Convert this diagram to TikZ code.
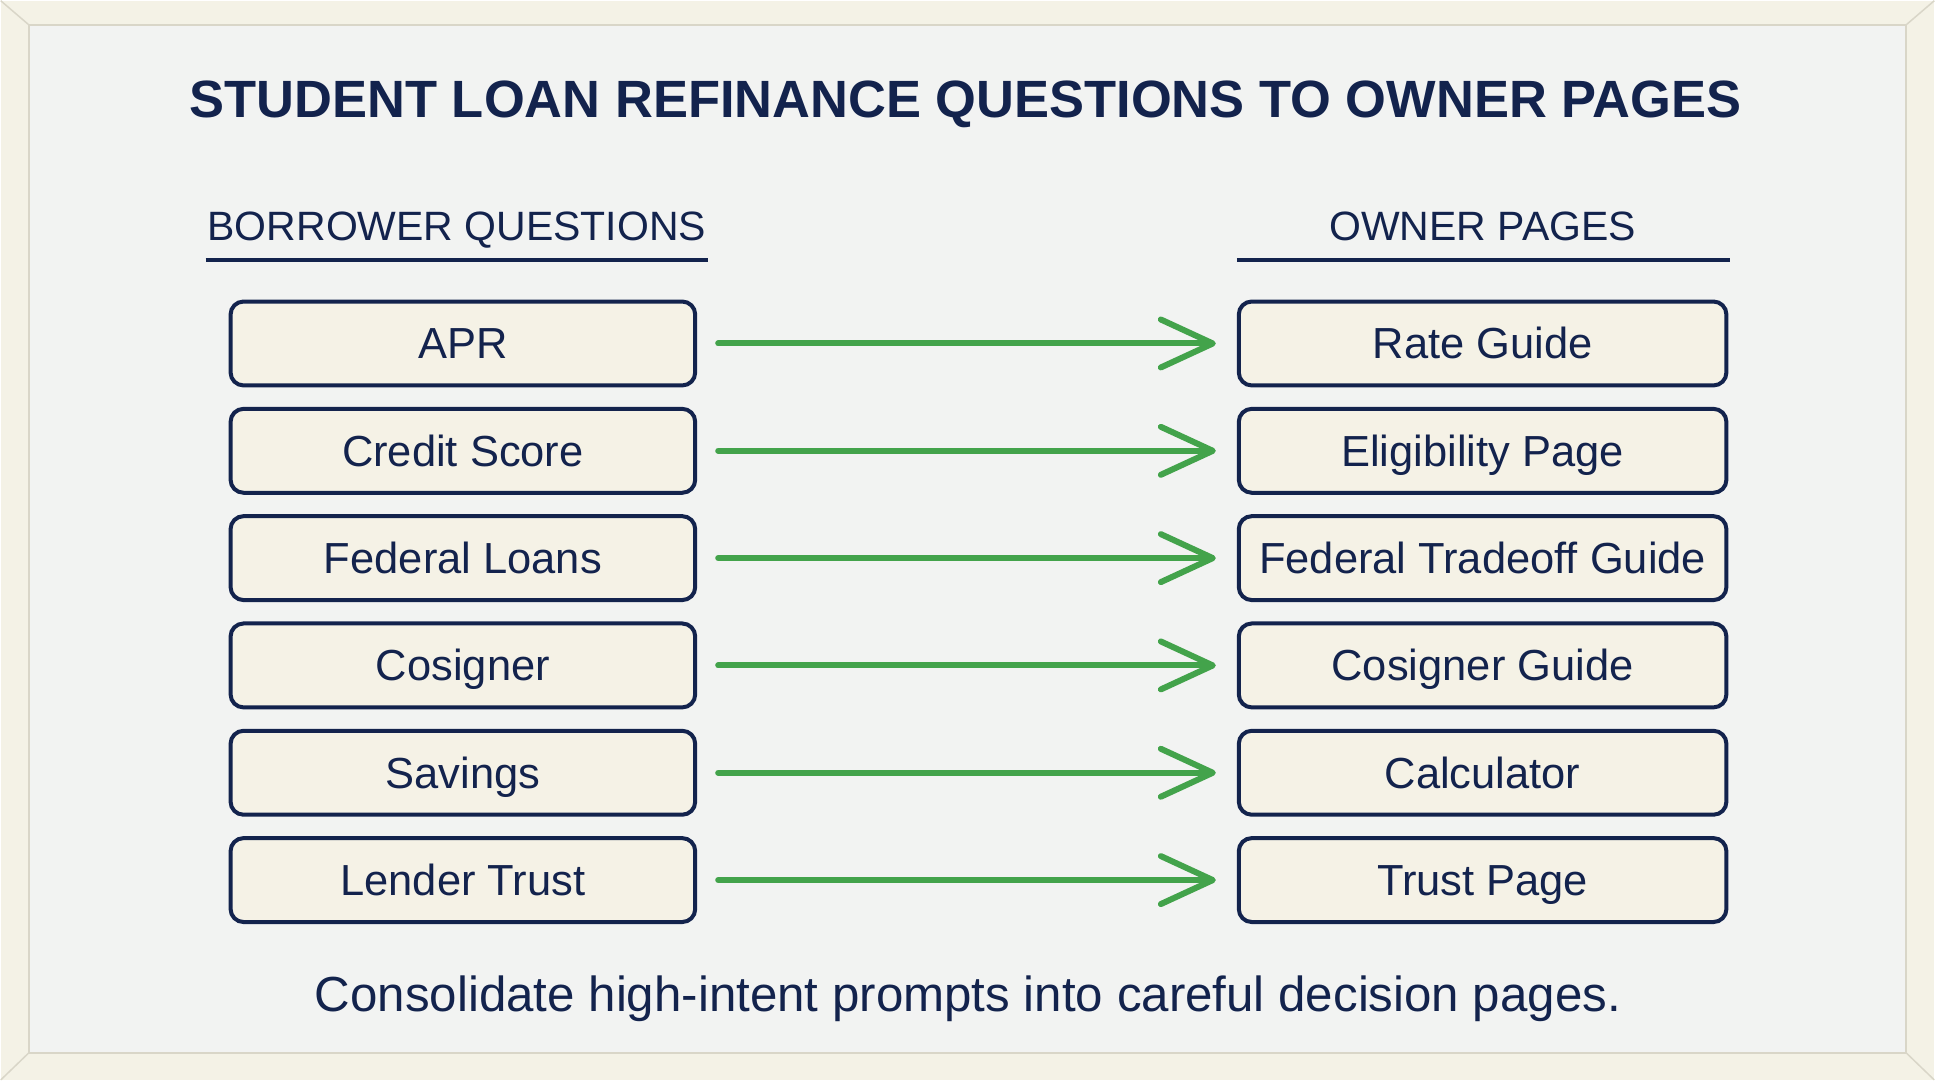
\documentclass[tikz,border=0pt]{standalone}
\usepackage{fontspec}
\setmainfont{Liberation Sans}
\usepackage{xcolor}
\usepackage{tikz}
\usetikzlibrary{arrows.meta}
\usetikzlibrary{positioning, calc}
\definecolor{inkblue}{HTML}{13234D}
\definecolor{linkgreen}{HTML}{43A34B}
\definecolor{boxcream}{HTML}{F5F2E6}
\definecolor{panelgray}{HTML}{F2F3F2}
\definecolor{framecream}{HTML}{F4F2E6}
\definecolor{bevelline}{HTML}{D9D6C8}
\tikzset{
    card/.style = {draw=inkblue, line width=4pt, fill=boxcream,
        rounded corners=13pt, minimum height=84pt, text=inkblue,
        font=\fontsize{43.5}{50}\selectfont, text height=31pt, text depth=0pt},
    qbox/.style = {card, minimum width=465pt},
    pagebox/.style = {card, minimum width=488pt},
    colhead/.style = {text=inkblue, anchor=base, inner sep=0pt,
        font=\fontsize{41}{48}\selectfont},
    headrule/.style = {draw=inkblue, line width=4pt},
    link/.style = {draw=linkgreen, line width=6pt, line cap=round,
        -{Straight Barb[length=52pt,width=48pt,round]},
        shorten <=21pt, shorten >=21pt},
}

\begin{document}
\begin{tikzpicture}[x=1pt,y=-1pt,node distance=19.4pt]
        % frame and panel
        \fill[framecream] (0,0) rectangle (1935,1080);
        \fill[panelgray] (28,24) rectangle (1907,1053);
        \draw[bevelline, line width=2pt] (28,24) rectangle (1907,1053);
        \draw[bevelline, line width=1.5pt] (0,0) -- (28,24) (1935,0) -- (1907,24)
            (0,1080) -- (28,1053) (1935,1080) -- (1907,1053);
        \useasboundingbox (0,0) rectangle (1935,1080);
        % title
        \node [text=inkblue, anchor=base, inner sep=0pt,
            font=\fontsize{52.5}{60}\selectfont\bfseries] (title) at (965.5,117)
            {STUDENT LOAN REFINANCE QUESTIONS TO OWNER PAGES};
        % column heads
        \node [colhead] (qhead) at (456.5,240) {BORROWER QUESTIONS};
        \node [colhead] (phead) at (1483,240) {OWNER PAGES};
        \draw [headrule] (205,259) -- (708,259);
        \draw [headrule] (1237,259) -- (1731,259);
        % questions
        \node [qbox] (apr) at (462.5,343) {APR};
        \node [qbox, below=of apr] (credit) {Credit Score};
        \node [qbox, below=of credit] (federal) {Federal Loans};
        \node [qbox, below=of federal] (cosigner) {Cosigner};
        \node [qbox, below=of cosigner] (savings) {Savings};
        \node [qbox, below=of savings] (lender) {Lender Trust};
        % owner pages
        \node [pagebox] (rate) at (1483,343) {Rate Guide};
        \node [pagebox, below=of rate] (elig) {Eligibility Page};
        \node [pagebox, below=of elig] (tradeoff) {Federal Tradeoff Guide};
        \node [pagebox, below=of tradeoff] (cosguide) {Cosigner Guide};
        \node [pagebox, below=of cosguide] (calc) {Calculator};
        \node [pagebox, below=of calc] (trustpg) {Trust Page};
        % links
        \draw [link] (apr) -- (rate);
        \draw [link] (credit) -- (elig);
        \draw [link] (federal) -- (tradeoff);
        \draw [link] (cosigner) -- (cosguide);
        \draw [link] (savings) -- (calc);
        \draw [link] (lender) -- (trustpg);
        % footer
        \node [text=inkblue, anchor=base, inner sep=0pt,
            font=\fontsize{49.3}{56}\selectfont] (note) at (968,1012)
            {Consolidate high-intent prompts into careful decision pages.};
\end{tikzpicture}
\end{document}
